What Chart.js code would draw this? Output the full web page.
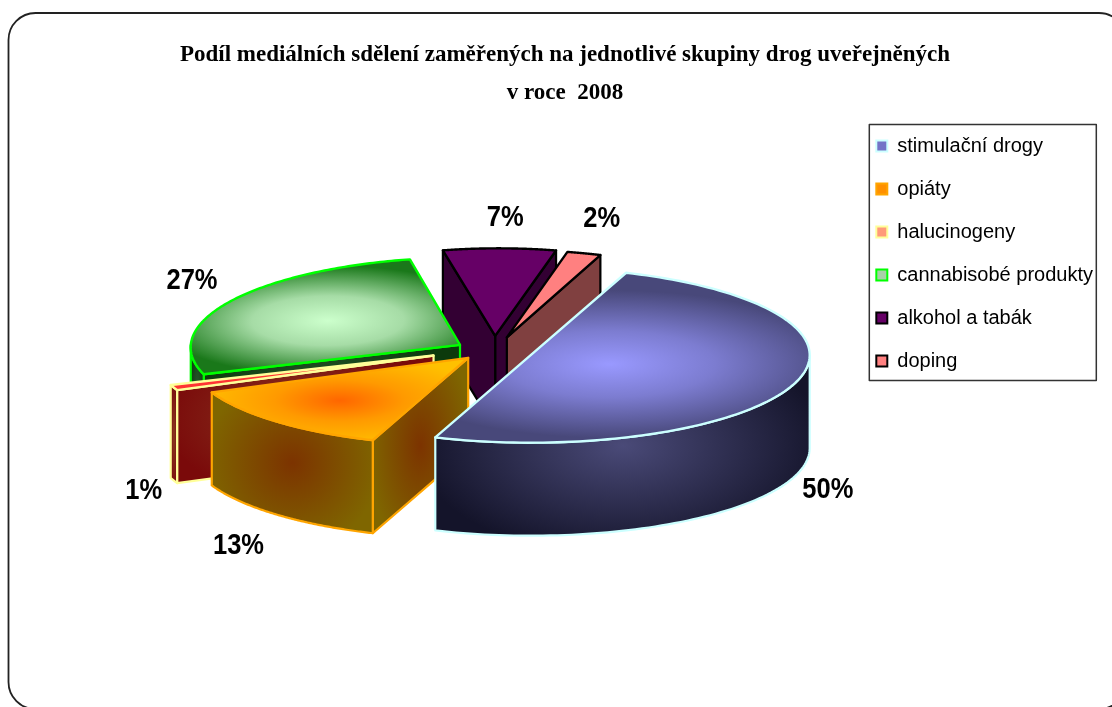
<!DOCTYPE html>
<html lang="cs">
<head>
<meta charset="utf-8">
<style>html,body{margin:0;padding:0;background:#fff;overflow:hidden}canvas{display:block}</style>
<script src="https://cdn.jsdelivr.net/npm/chart.js@4"></script>
</head>
<body>
<canvas id="c" width="1112" height="707"></canvas>
<script>
// data
const categories = ['stimulační drogy','opiáty','halucinogeny','cannabisobé produkty','alkohol a tabák','doping'];
const shares = [50,13,1,27,7,2];
const titleLines = ['Podíl mediálních sdělení zaměřených na jednotlivé skupiny drog uveřejněných','v roce  2008'];

// style
const borderColors = ['#ccffff','#ffa500','#ffff99','#00ff00','#000000','#000000'];
const swatchColors = ['#7474c8','#ff9000','#ff9a7a','#a8d0a8','#660066','#ff8080'];
const topInner = ['#9999ff','#ff6600','#ff3333','#ccffcc','#660066','#ff8080'];
const topMiddle = ['#7c7cd0','#ff9a00','#ff3333','#a6dca6','#660066','#ff8080'];
const topOuter = ['#48487a','#ffc000','#ff3333','#1a781a','#660066','#ff8080'];
const glowReach = [235,145,60,175,300,300];     // radial gradient radius of the top face
const glowPlace = [0.30,0.67,0.5,0.57,0.5,0.5]; // where along the mid radius its centre sits
const wallInner = ['#4a4a78','#7c3300','#8a3a22','#2f5f35','#330033','#804040'];
const wallOuter = ['#14142a','#7f6600','#7a0a0a','#0c3a0c','#330033','#804040'];
const explode = [38,39,66,40,48,42];            // explosion distance of each slice
const lift = [0,-2,-3,0,0,-1];                  // small vertical correction of each slice
const stretch = [1,1,1,0.965,0.93,0.98];        // perspective narrowing of the slices at the back
const lean = [0,0,0,-0.09,-0.04,0];             // perspective lean of those slices
const drawOrder = [4,5,3,2,1,0];                // back to front
const labelNudge = [[35,105],[-38,124],[-30,103],[-24,-21],[9,-30],[16,-34]];

// pie projection
const pieCentre = {x:495,y:351};
const squash = 0.314, depth = 93, pieRadius = 279, firstAngle = 20;

function midAngle(i){
  const total = shares.reduce((a,b)=>a+b,0);
  let before = 0; for(let k=0;k<i;k++) before += shares[k];
  return (firstAngle-90+(before+shares[i]/2)/total*360)*Math.PI/180;
}
function apexOf(i){
  const m = midAngle(i);
  return [pieCentre.x+explode[i]*Math.cos(m), pieCentre.y+explode[i]*Math.sin(m)*squash+lift[i]];
}
function topFill(c){
  const i = c.dataIndex, a = c.chart.chartArea, m = midAngle(i);
  const x = (a.left+a.right)/2+Math.cos(m)*pieRadius*glowPlace[i];
  const y = (a.top+a.bottom)/2+Math.sin(m)*pieRadius*glowPlace[i];
  const g = c.chart.ctx.createRadialGradient(x,y,0,x,y,glowReach[i]);
  g.addColorStop(0,topInner[i]); g.addColorStop(0.45,topMiddle[i]); g.addColorStop(1,topOuter[i]);
  return g;
}
function polyPath(ctx,pts){
  ctx.beginPath();
  pts.forEach((p,k)=>k?ctx.lineTo(p[0],p[1]):ctx.moveTo(p[0],p[1]));
  ctx.closePath();
}
function wall(ctx,pts,i){
  const xs = pts.map(p=>p[0]), ys = pts.map(p=>p[1]);
  const x0 = Math.min(...xs), x1 = Math.max(...xs), y0 = Math.min(...ys), y1 = Math.max(...ys);
  polyPath(ctx,pts);
  ctx.save();
  ctx.translate((x0+x1)/2,(y0+y1)/2);
  ctx.scale(Math.max(1,(x1-x0)*0.55),Math.max(1,(y1-y0)*0.62));
  const g = ctx.createRadialGradient(0,0,0,0,0,1);
  g.addColorStop(0,wallInner[i]); g.addColorStop(1,wallOuter[i]);
  ctx.fillStyle = g; ctx.fill();
  ctx.restore();
  ctx.strokeStyle = borderColors[i]; ctx.lineWidth = 2.2; ctx.lineJoin = 'round'; ctx.stroke();
}
const pie3d = {
  id:'pie3d',
  afterLayout(chart){
    chart.legend.top = 113;
    chart.legend.left -= 9;
  },
  beforeDraw(chart){
    const ctx = chart.ctx;
    ctx.save();
    ctx.strokeStyle = '#222'; ctx.lineWidth = 1.8;
    ctx.beginPath(); ctx.roundRect(8.5,13,1117.5,696,27); ctx.stroke();
    ctx.restore();
  },
  beforeDatasetDraw(chart){
    const ctx = chart.ctx, arcs = chart.getDatasetMeta(0).data;
    drawOrder.forEach(i=>{
      const arc = arcs[i], R = arc.outerRadius;
      const [ax,ay] = apexOf(i);
      const rim = (t,z=0)=>[ax+stretch[i]*R*Math.cos(t)+lean[i]*R*Math.sin(t)*squash,ay+R*Math.sin(t)*squash+z];
      const s = arc.startAngle, e = arc.endAngle, apex = [ax,ay];
      // cut walls, only those facing the viewer
      if(Math.sin(e+Math.PI/2)>0) wall(ctx,[apex,rim(e),rim(e,depth),[ax,ay+depth]],i);
      if(Math.sin(s-Math.PI/2)>0) wall(ctx,[apex,rim(s),rim(s,depth),[ax,ay+depth]],i);
      // outer wall: the part of the rim facing the viewer
      const lit = [];
      for(let k=0;k<=120;k++){ const t = s+(e-s)*k/120; if(Math.sin(t)>0) lit.push(t); }
      if(lit.length>1){
        wall(ctx,[...lit.map(t=>rim(t)),...lit.slice().reverse().map(t=>rim(t,depth))],i);
      }
      // top face drawn by the library's arc element
      ctx.save();
      ctx.transform(stretch[i],0,lean[i]*squash,squash,ax,ay);
      ctx.translate(-arc.x,-arc.y);
      arc.draw(ctx);
      ctx.restore();
      const outline = [apex];
      for(let k=0;k<=120;k++) outline.push(rim(s+(e-s)*k/120));
      polyPath(ctx,outline);
      ctx.strokeStyle = borderColors[i]; ctx.lineWidth = 2.4; ctx.lineJoin = 'round'; ctx.stroke();
    });
    return false;
  },
  afterDatasetsDraw(chart){
    const ctx = chart.ctx;
    shares.forEach((v,i)=>{
      const m = midAngle(i), [ax,ay] = apexOf(i);
      const x = ax+pieRadius*Math.cos(m)+labelNudge[i][0];
      const y = ay+pieRadius*Math.sin(m)*squash+labelNudge[i][1];
      ctx.save();
      ctx.translate(x,y); ctx.scale(0.88,1);
      ctx.font = 'bold 29px "Liberation Sans"';
      ctx.fillStyle = '#000'; ctx.textAlign = 'center'; ctx.textBaseline = 'middle';
      ctx.fillText(v+'%',0,0);
      ctx.restore();
    });
  },
  afterDraw(chart){
    const l = chart.legend, ctx = chart.ctx;
    const pad = l.options.labels.padding;
    ctx.save();
    ctx.strokeStyle = '#333'; ctx.lineWidth = 1.5;
    ctx.strokeRect(l.left+pad-7,124.5,227,256);
    ctx.restore();
  }
};
new Chart(document.getElementById('c'),{
  type:'pie',
  plugins:[pie3d],
  data:{labels:categories,datasets:[{
    data:shares,
    backgroundColor:topFill,
    borderWidth:0
  }]},
  options:{
    responsive:false,
    animation:false,
    rotation:firstAngle,
    radius:pieRadius,
    events:[],
    layout:{padding:{top:36,left:18,right:0,bottom:0}},
    plugins:{
      tooltip:{enabled:false},
      title:{display:true,text:titleLines,color:'#000',
        font:{family:'"Liberation Serif"',weight:'bold',size:23,lineHeight:1.65},
        padding:{top:0,bottom:1}},
      legend:{position:'right',align:'start',
        labels:{
          boxWidth:11,boxHeight:11,padding:23,color:'#000',
          font:{family:'"Liberation Sans"',size:20},
          generateLabels(){
            return categories.map((t,i)=>({text:t,fillStyle:swatchColors[i],strokeStyle:borderColors[i],lineWidth:2,index:i}));
          }
        }
      }
    }
  }
});
</script>
</body>
</html>
